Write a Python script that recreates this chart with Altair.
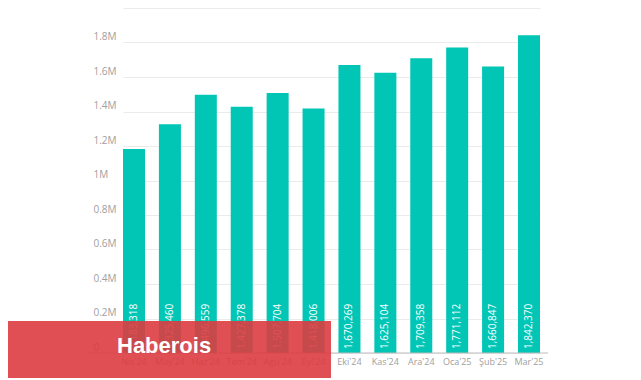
import altair as alt
import pandas as pd

months = ["Nis'24", "May'24", "Haz'24", "Tem'24", "Ağu'24", "Eyl'24",
          "Eki'24", "Kas'24", "Ara'24", "Oca'25", "Şub'25", "Mar'25"]
values = [1183318, 1325460, 1496559, 1427378, 1507704, 1418006,
          1670269, 1625104, 1709358, 1771112, 1660847, 1842370]
y_ticks = [0, 200000, 400000, 600000, 800000, 1000000, 1200000,
           1400000, 1600000, 1800000, 2000000]
watermark = "Haberois"

df = pd.DataFrame({"month": months, "value": values})

FONT = "Open Sans"
W, H = 460, 345

x_scale = alt.Scale(range=[35, 452], paddingInner=0.387, paddingOuter=0)
y_scale = alt.Scale(domain=[0, 2000000], range=[H, 0], nice=False)

x_axis = alt.Axis(labelAngle=0, domain=False, ticks=False, labelPadding=4,
                  labelColor="#a0a0a0", labelFontSize=9, labelFont=FONT,
                  labelOverlap=False, grid=False, title=None)
y_axis = alt.Axis(values=y_ticks, grid=True, gridColor="#ebebeb",
                  domain=False, ticks=False, labelAlign="left",
                  labelPadding=-5, labelBaseline="bottom", labelOffset=-1,
                  labelOverlap=False, labelFlush=False, title=None,
                  labelColor="#a0a0a0", labelFontSize=10, labelFont=FONT,
                  labelExpr="datum.value == 0 ? '0' : format(datum.value/1000000, '.1~f') + 'M'")

base = alt.Chart(df)

bars = base.mark_bar(color="#01C6B6").encode(
    x=alt.X("month:N", sort=months, scale=x_scale, axis=x_axis),
    y=alt.Y("value:Q", scale=y_scale, axis=y_axis),
)

labels = base.mark_text(angle=270, align="left", baseline="middle", dx=4,
                        color="white", fontSize=10, font=FONT).encode(
    x=alt.X("month:N", sort=months, scale=x_scale, axis=x_axis),
    y=alt.Y("zero:Q", scale=y_scale, axis=y_axis),
    text=alt.Text("value:Q", format=","),
).transform_calculate(zero="0")

baseline = alt.Chart(pd.DataFrame({"v": [0]})).mark_rule(color="#bdbdbd", strokeWidth=1).encode(
    y=alt.Y("v:Q", scale=y_scale, axis=y_axis),
    x=alt.value(0), x2=alt.value(W),
)

banner = alt.Chart(pd.DataFrame({"t": [watermark]})).mark_rect(
    color="#DC3C40", opacity=0.9).encode(
    x=alt.value(-80), x2=alt.value(243),
    y=alt.value(313), y2=alt.value(370),
)

wm = alt.Chart(pd.DataFrame({"t": [watermark]})).mark_text(
    align="left", baseline="alphabetic", color="white", fontSize=22,
    fontWeight="bold", font="Liberation Sans").encode(
    x=alt.value(29), y=alt.value(345), text="t:N",
)

chart = alt.layer(bars, labels, baseline, banner, wm).properties(
    width=W, height=H,
    background="white",
    autosize=alt.AutoSizeParams(type="none"),
    padding={"left": 80, "top": 0, "right": 85, "bottom": 30},
).configure_view(stroke=None)

chart.save("out.html", embed_options={"renderer": "svg", "actions": False})
